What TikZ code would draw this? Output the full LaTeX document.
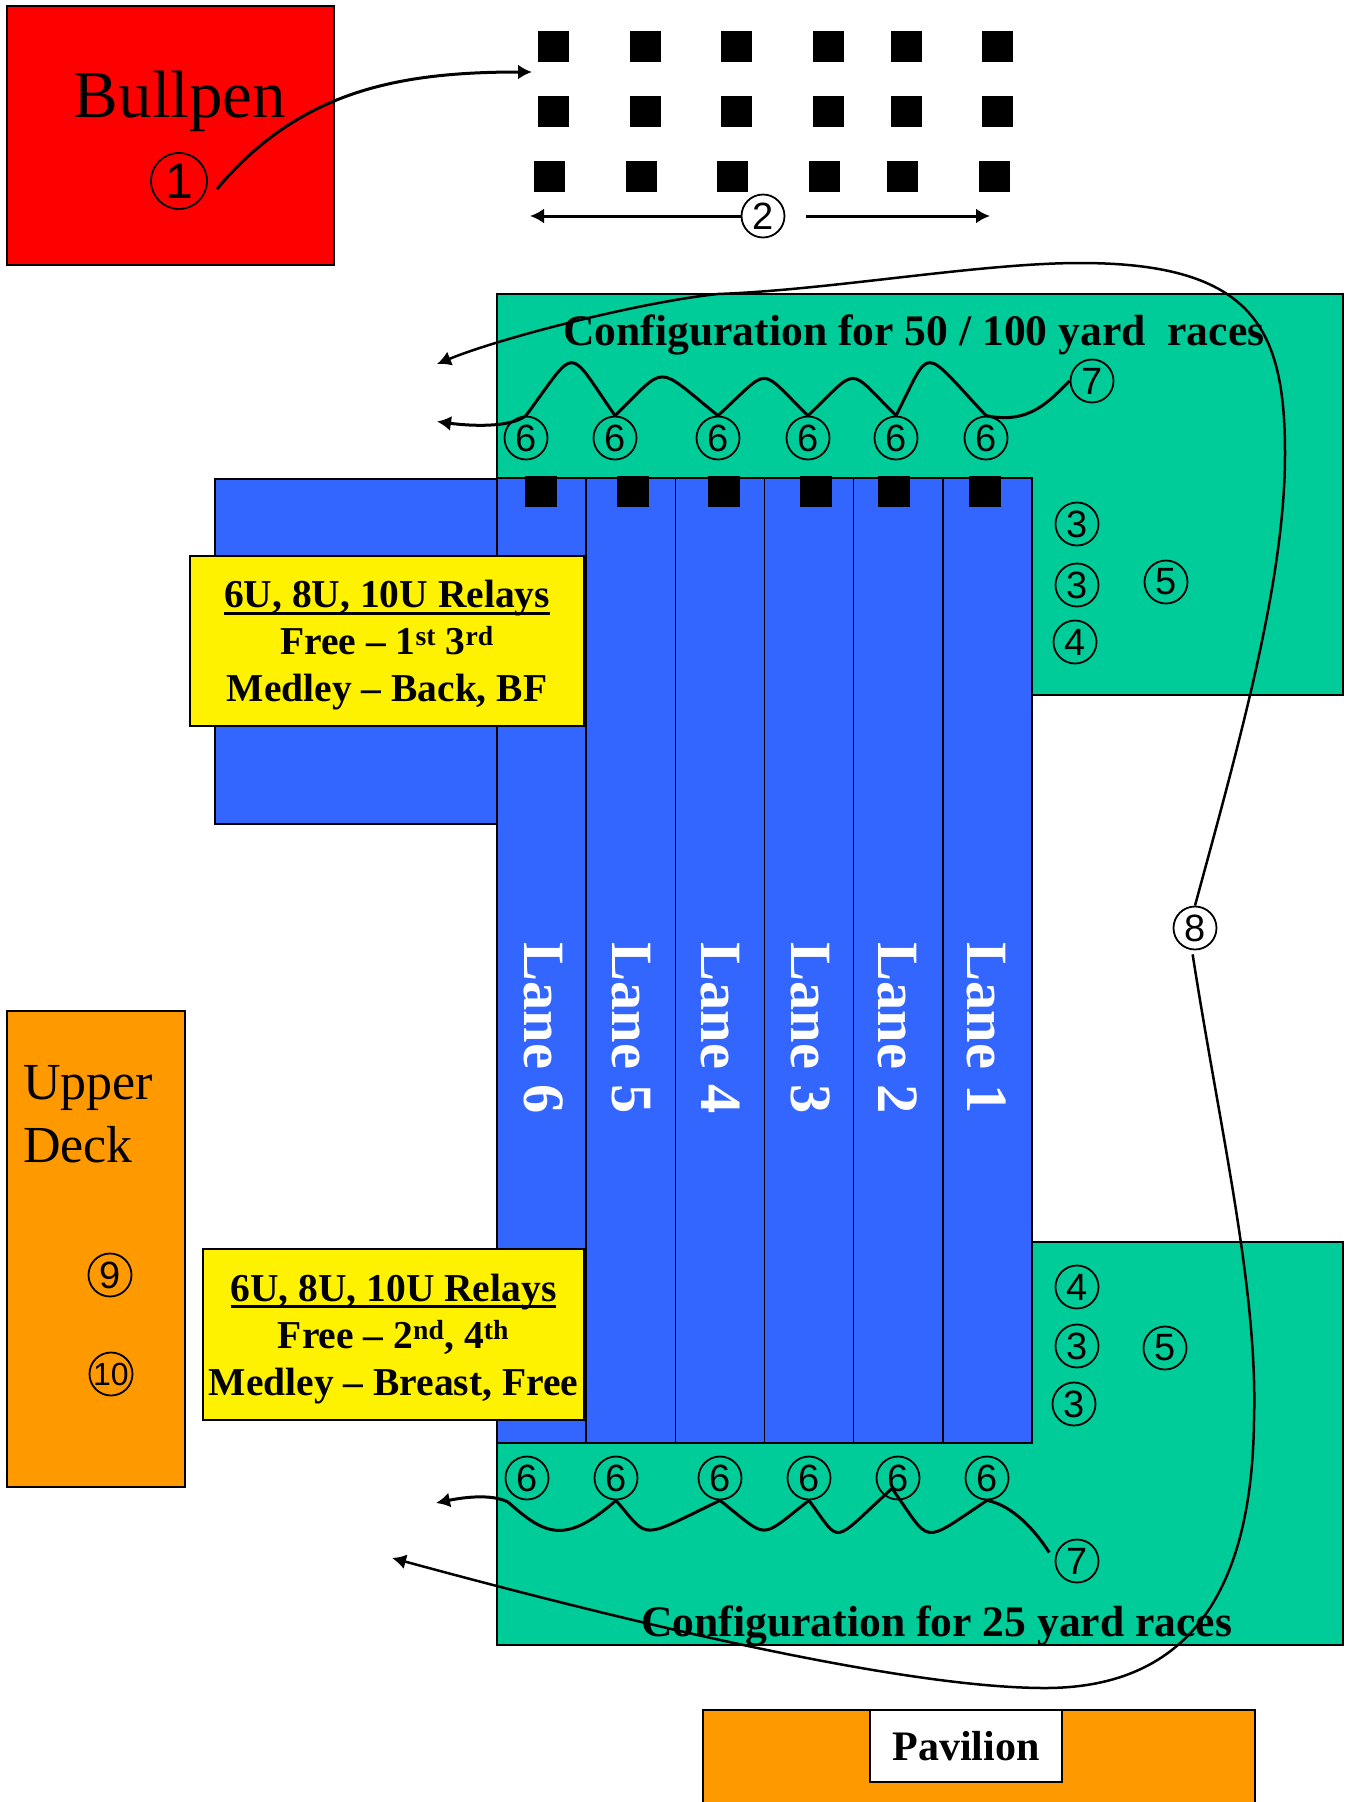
\documentclass[tikz,border=0pt]{standalone}
\usepackage{fontspec}
\setmainfont{Liberation Serif}
\newfontfamily\numfont{Liberation Sans}
\newcommand{\heavyline}[1]{\leavevmode\setbox0\hbox{#1}\rlap{\rule[-7pt]{\wd0}{3pt}}\box0}
\usepackage{tikz}
\usetikzlibrary{arrows.meta,positioning}
\usepackage{xcolor}
\definecolor{poolblue}{HTML}{3366FF}
\definecolor{deckgreen}{HTML}{00CC99}
\definecolor{deckorange}{HTML}{FF9900}

\begin{document}
\begin{tikzpicture}[
  x=1pt, y=-1pt,
  zone/.style={draw, line width=1.5pt, inner sep=0pt, outer sep=0pt, anchor=north west},
  lanebox/.style={zone, fill=poolblue, minimum width=89.17pt, minimum height=965pt},
  lanename/.style={rotate=-90, text=white, font=\bfseries\fontsize{58.5}{58.5}\selectfont},
  block/.style={fill=black, inner sep=0pt, minimum width=31pt, minimum height=31pt, on grid},
  startblock/.style={block, minimum width=32pt},
  num/.style={circle, draw, line width=1.8pt, inner sep=0pt, minimum size=43pt, font=\numfont\fontsize{38}{38}\selectfont},
  notebox/.style={draw, fill=yellow, line width=1.5pt, inner sep=0pt, align=center, font=\bfseries\fontsize{39.5}{47}\selectfont},
  title/.style={anchor=base west, inner sep=0pt, font=\bfseries\fontsize{43.6}{43.6}\selectfont},
  arrow/.style={-{Latex[length=14pt,width=15pt]}, line width=3pt},
  wire/.style={line width=3pt}
]
\useasboundingbox (0,0) rectangle (1349,1802);

\node[zone, fill=red, minimum width=327pt, minimum height=259pt] (bullpen) at (7,6) {};
\node[anchor=base, inner sep=0pt, font=\fontsize{67}{67}\selectfont] (bullpenname) at (180,117) {Bullpen};
\node[num, minimum size=56pt, font=\numfont\fontsize{50}{50}\selectfont] (one) at (179,181) {1};

\node[block] (r1a) at (553.5,46.5) {};
\node[block, right=92pt of r1a] (r1b) {};
\node[block, right=91pt of r1b] (r1c) {};
\node[block, right=92pt of r1c] (r1d) {};
\node[block, right=78pt of r1d] (r1e) {};
\node[block, right=91pt of r1e] (r1f) {};
\node[block, below=65pt of r1a] (r2a) {};
\node[block, below=65pt of r1b] (r2b) {};
\node[block, below=65pt of r1c] (r2c) {};
\node[block, below=65pt of r1d] (r2d) {};
\node[block, below=65pt of r1e] (r2e) {};
\node[block, below=65pt of r1f] (r2f) {};
\node[block] (r3a) at (549.5,176.5) {};
\node[block, right=92pt of r3a] (r3b) {};
\node[block, right=91pt of r3b] (r3c) {};
\node[block, right=92pt of r3c] (r3d) {};
\node[block, right=78pt of r3d] (r3e) {};
\node[block, right=92pt of r3e] (r3f) {};

\node[num] (two) at (763,216) {2};
\coordinate (onefoot) at (217,189);
\coordinate (rowtip) at (532,72);
\coordinate (leftend) at (530,216);
\coordinate (rightend) at (990,216);
\draw[arrow] (two) -- (leftend);
\draw[arrow, shorten <=21pt] (two.east) -- (rightend);
\draw[arrow] (onefoot) .. controls (300,90) and (400,72) .. (rowtip);

\node[zone, fill=deckgreen, minimum width=846pt, minimum height=401pt] (topdeck) at (497,294) {};
\node[zone, fill=deckgreen, minimum width=846pt, minimum height=403pt] (lowdeck) at (497,1242) {};
\node[zone, fill=poolblue, minimum width=282pt, minimum height=345pt] (warmup) at (215,479) {};

\node[lanebox] (lane6) at (497,478) {};
\node[lanebox, right=0pt of lane6] (lane5) {};
\node[lanebox, right=0pt of lane5] (lane4) {};
\node[lanebox, right=0pt of lane4] (lane3) {};
\node[lanebox, right=0pt of lane3] (lane2) {};
\node[lanebox, right=0pt of lane2] (lane1) {};

\node[lanename] (name6) at (543.5,1028) {Lane 6};
\node[lanename] (name5) at (631.5,1028) {Lane 5};
\node[lanename] (name4) at (720.5,1028) {Lane 4};
\node[lanename] (name3) at (810.5,1028) {Lane 3};
\node[lanename] (name2) at (898,1028) {Lane 2};
\node[lanename] (name1) at (987,1028) {Lane 1};

\node[startblock] (start6) at (540.5,491.5) {};
\node[startblock] (start5) at (632.5,491.5) {};
\node[startblock] (start4) at (723.5,491.5) {};
\node[startblock] (start3) at (815.5,491.5) {};
\node[startblock] (start2) at (893.5,491.5) {};
\node[startblock] (start1) at (984.5,491.5) {};

\node[title] (toptitle) at (563,345) {Configuration for 50 / 100 yard~ races};
\node[title] (lowtitle) at (641,1636) {Configuration for 25 yard races};

\node[notebox, minimum width=394pt, minimum height=170pt] (topnote) at (387,641)
  {\rule{0pt}{36pt}\heavyline{6U, 8U, 10U Relays}\\Free -- 1\textsuperscript{st} 3\textsuperscript{rd}\\Medley -- Back, BF};
\node[notebox, minimum width=381pt, minimum height=171pt] (lownote) at (393.5,1334.5)
  {\rule{0pt}{36pt}\heavyline{6U, 8U, 10U Relays}\\Free -- 2\textsuperscript{nd}, 4\textsuperscript{th}\\Medley -- Breast, Free};

\node[num] (six1) at (526,438) {6};
\node[num] (six2) at (615,438) {6};
\node[num] (six3) at (718,438) {6};
\node[num] (six4) at (808,438) {6};
\node[num] (six5) at (896,438) {6};
\node[num] (six6) at (986,438) {6};
\node[num] (seven) at (1092,381) {7};
\node[num] (three1) at (1077,524) {3};
\node[num] (three2) at (1077,585) {3};
\node[num] (four) at (1075,642) {4};
\node[num] (five) at (1166,582) {5};

\node[num] (sixb1) at (527,1478) {6};
\node[num] (sixb2) at (616,1478) {6};
\node[num] (sixb3) at (720,1478) {6};
\node[num] (sixb4) at (809,1478) {6};
\node[num] (sixb5) at (898,1478) {6};
\node[num] (sixb6) at (987,1478) {6};
\node[num] (sevenb) at (1077,1561) {7};
\node[num] (fourb) at (1077,1287) {4};
\node[num] (threeb1) at (1077,1346) {3};
\node[num] (threeb2) at (1074,1404) {3};
\node[num] (fiveb) at (1165,1348) {5};

\node[num] (eight) at (1195,928) {8};

\node[zone, fill=deckorange, minimum width=178pt, minimum height=476pt] (upperdeck) at (7,1011) {};
\node[anchor=base west, inner sep=0pt, font=\fontsize{52}{52}\selectfont] (uppername) at (23,1099) {Upper};
\node[anchor=base west, inner sep=0pt, font=\fontsize{52}{52}\selectfont] (deckname) at (23,1162) {Deck};
\node[num] (nine) at (110,1275) {9};
\node[num, font=\numfont\fontsize{32}{32}\selectfont] (ten) at (111,1374) {10};

\node[zone, fill=deckorange, minimum width=552pt, minimum height=110pt] (pavilionbar) at (703,1710) {};
\node[zone, fill=white, minimum width=192pt, minimum height=72pt, font=\bfseries\fontsize{42}{42}\selectfont] (pavilion) at (870,1710) {Pavilion};

\coordinate (stopa) at (437,421.5);
\coordinate (stopb) at (437,364);
\coordinate (stopc) at (436,1503);
\coordinate (stopd) at (392,1558);
\coordinate (bendc) at (508,1502);

\draw[arrow] (six1.north) .. controls (510,428) and (470,426) .. (stopa);
\draw[wire] (six2.north) .. controls (566,345) and (578,345) .. (six1.north);
\draw[wire] (six3.north) .. controls (654,364) and (668,364) .. (six2.north);
\draw[wire] (six4.north) .. controls (757,366) and (772,366) .. (six3.north);
\draw[wire] (six5.north) .. controls (846,366) and (860,366) .. (six4.north);
\draw[wire] (six6.north) .. controls (920,345) and (932,345) .. (six5.north);
\draw[wire] (seven.west) .. controls (1050,400) and (1030,425) .. (six6.north);

\draw[arrow] (bendc) .. controls (490,1493) and (460,1498) .. (stopc);
\draw[wire] (sixb2.south) .. controls (565,1545) and (545,1535) .. (bendc);
\draw[wire] (sixb3.south) .. controls (638,1540) and (650,1540) .. (sixb2.south);
\draw[wire] (sixb4.south) .. controls (758,1540) and (770,1540) .. (sixb3.south);
\draw[wire] ([xshift=-6pt,yshift=12pt]sixb5.south) .. controls (830,1545) and (842,1545) .. (sixb4.south);
\draw[wire] (sixb6.south) .. controls (920,1545) and (932,1545) .. ([xshift=-6pt,yshift=12pt]sixb5.south);
\draw[wire, shorten <=10pt] (sevenb.west) .. controls (1035,1530) and (1012,1505) .. (sixb6.south);

\draw[arrow, line width=2.5pt] (eight.north) .. controls (1240,740) and (1285,580) .. (1285,454)
  .. controls (1285,330) and (1255,263) .. (1080,263)
  .. controls (980,263) and (830,290) .. (718,294)
  .. controls (640,302) and (500,338) .. (stopb);
\draw[arrow, line width=2.5pt, shorten <=4pt] ([xshift=-3pt]eight.south) .. controls (1220,1130) and (1258,1290) .. (1254,1420)
  .. controls (1252,1590) and (1190,1688) .. (1045,1688)
  .. controls (900,1688) and (620,1620) .. (stopd);

\end{tikzpicture}
\end{document}
